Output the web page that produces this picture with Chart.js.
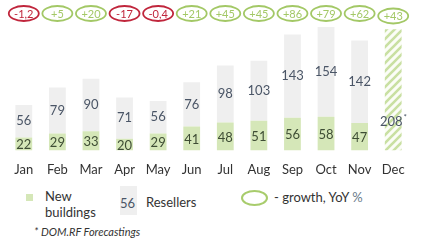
<!DOCTYPE html>
<html>
<head>
<meta charset="utf-8">
<script src="https://cdn.jsdelivr.net/npm/chart.js@4/dist/chart.umd.min.js"></script>
<style>
    body { margin: 0; background: #fff; font-family: Lato, "Open Sans", sans-serif; }
    #wrap { position: relative; width: 423px; height: 241px; overflow: hidden; }
    #chart { position: absolute; left: 0; top: 0; }
    .lg { position: absolute; color: #333; font-size: 13px; line-height: 16px; }
</style>
</head>
<body>
<div id="wrap">
    <canvas id="chart" width="423" height="182"></canvas>
    <div class="lg" style="left:26px;top:194px;width:7px;height:7px;background:#d5e7b8"></div>
    <div class="lg" style="left:45px;top:188px">New<br>buildings</div>
    <div class="lg" style="left:120px;top:186px;width:17px;height:29px;background:#efefef"></div>
    <div class="lg" style="left:120px;top:195px;color:#4a5566">56</div>
    <div class="lg" style="left:146px;top:194px">Resellers</div>
    <div class="lg" style="left:241px;top:190px;width:23px;height:12px;border:2px solid #a8cc6c;border-radius:50%"></div>
    <div class="lg" style="left:274px;top:189px">- growth, YoY <span style="color:#6a7a8a">%</span></div>
    <div class="lg" style="left:34px;top:224px;font-size:11px;font-style:italic">* DOM.RF Forecastings</div>
</div>
<script>
// chart data
const months = ['Jan', 'Feb', 'Mar', 'Apr', 'May', 'Jun', 'Jul', 'Aug', 'Sep', 'Oct', 'Nov', 'Dec'];
const newBuildings = [22, 29, 33, 20, 29, 41, 48, 51, 56, 58, 47, null];
const resellers = [56, 79, 90, 71, 56, 76, 98, 103, 143, 154, 142, null];
const forecast = [null, null, null, null, null, null, null, null, null, null, null, 208];
const growth = [-1.2, 5, 20, -17, -0.4, 21, 45, 45, 86, 79, 62, 43];

// diagonal hatch for the forecast bar
function makeHatch() {
    const c = document.createElement('canvas');
    c.width = 8;
    c.height = 8;
    const g = c.getContext('2d');
    g.fillStyle = '#fbfdf7';
    g.fillRect(0, 0, 8, 8);
    g.strokeStyle = '#c9e0a2';
    g.lineWidth = 2.6;
    g.beginPath();
    g.moveTo(-2, 10); g.lineTo(10, -2);
    g.moveTo(-6, 6); g.lineTo(6, -6);
    g.moveTo(2, 14); g.lineTo(14, 2);
    g.stroke();
    return g.createPattern(c, 'repeat');
}

function fmtGrowth(v) {
    const s = String(Math.abs(v)).replace('.', ',');
    return (v < 0 ? '-' : '+') + s;
}

const labelsPlugin = {
    id: 'labels',
    afterDatasetsDraw(chart) {
        const ctx = chart.ctx;
        ctx.save();
        ctx.textAlign = 'center';
        ctx.textBaseline = 'middle';
        ctx.font = '13px Lato, "Open Sans", sans-serif';

        const m0 = chart.getDatasetMeta(0);
        const m1 = chart.getDatasetMeta(1);
        const m2 = chart.getDatasetMeta(2);

        months.forEach((m, i) => {
            if (newBuildings[i] != null) {
                const b = m0.data[i];
                ctx.fillStyle = '#3e4d34';
                ctx.fillText(newBuildings[i], b.x, (b.y + b.base) / 2 + 1);
            }
            if (resellers[i] != null) {
                const b = m1.data[i];
                ctx.fillStyle = '#4a5566';
                ctx.fillText(resellers[i], b.x, (b.y + b.base) / 2);
            }
            if (forecast[i] != null) {
                const b = m2.data[i];
                ctx.fillStyle = '#4a5566';
                ctx.fillText(forecast[i], b.x - 2, b.base - 29);
                ctx.font = '8px Lato, sans-serif';
                ctx.fillText('*', b.x + 12, b.base - 33);
                ctx.font = '13px Lato, "Open Sans", sans-serif';
            }

            // growth ellipse
            const x = m0.data[i].x;
            const y = i === 11 ? 16 : 13.5;
            const col = growth[i] < 0 ? '#c0263c' : '#a3c866';
            ctx.beginPath();
            ctx.ellipse(x, y, 15, 7.5, 0, 0, Math.PI * 2);
            ctx.lineWidth = 1.8;
            ctx.strokeStyle = col;
            ctx.stroke();
            ctx.fillStyle = col;
            ctx.font = '11px Lato, "Open Sans", sans-serif';
            ctx.fillText(fmtGrowth(growth[i]), x, y + 0.5);
            ctx.font = '13px Lato, "Open Sans", sans-serif';
        });
        ctx.restore();
    }
};

const ctx = document.getElementById('chart').getContext('2d');
new Chart(ctx, {
    type: 'bar',
    data: {
        labels: months,
        datasets: [
            { label: 'New buildings', data: newBuildings, backgroundColor: '#d5e7b8' },
            { label: 'Resellers', data: resellers, backgroundColor: '#efefef' },
            { label: 'Forecast', data: forecast, backgroundColor: makeHatch() }
        ]
    },
    options: {
        responsive: false,
        animation: false,
        layout: { padding: { top: 27, left: 7, right: 13, bottom: 0 } },
        datasets: { bar: { categoryPercentage: 1, barPercentage: 0.5 } },
        plugins: { legend: { display: false }, tooltip: { enabled: false } },
        scales: {
            x: {
                stacked: true,
                grid: { display: false },
                border: { display: false },
                ticks: { color: '#333', font: { size: 13, family: 'Lato, "Open Sans", sans-serif' }, padding: 4 }
            },
            y: { stacked: true, display: false, min: 0, max: 212 }
        }
    },
    plugins: [labelsPlugin]
});
</script>
</body>
</html>
